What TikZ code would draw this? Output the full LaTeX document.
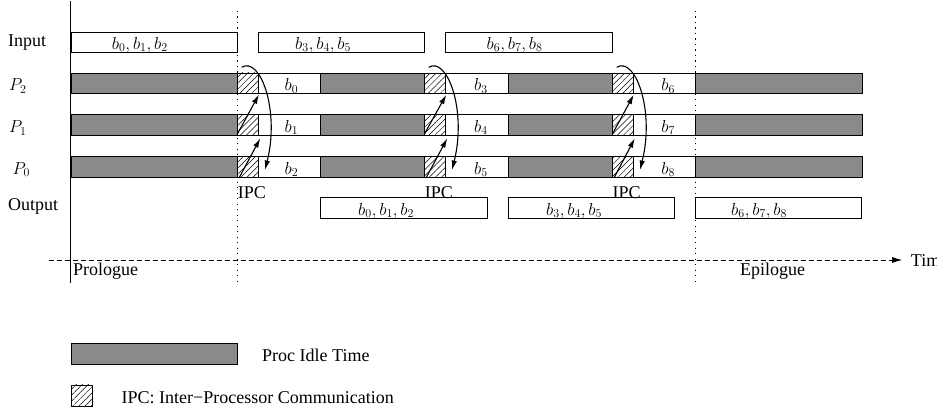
\documentclass[tikz,border=0pt]{standalone}
\usepackage[no-math]{fontspec}
\setmainfont{Liberation Serif}
\usetikzlibrary{patterns.meta,arrows.meta,calc}
\definecolor{idlegray}{RGB}{138,138,138}
\begin{document}
\begin{tikzpicture}[x=1pt,y=-1pt,
  every node/.style={font=\fontsize{18}{21}\selectfont},
  seg/.style={draw, line width=0.8pt, inner sep=0pt, anchor=north west, minimum height=20.7pt},
  idle/.style={seg, fill=idlegray},
  ipcbox/.style={seg, pattern={Lines[angle=45,distance=4.3pt,line width=0.5pt]}},
  workbox/.style={seg, fill=white},
  lbl/.style={inner sep=0pt},
  ipcarrow/.style={line width=1.1pt, -{Latex[length=9.5pt,width=5.5pt]}},
  dotline/.style={line width=1pt, dash pattern=on 1.2pt off 4.3pt},
  axisline/.style={line width=1pt},
  timeline/.style={line width=0.9pt, dash pattern=on 5pt off 3pt, -{Latex[length=10pt,width=6pt]}},
]
\useasboundingbox (0,0) rectangle (937,412);

% guides
\draw[axisline] (70.7,1) -- (70.7,283);
\draw[dotline] (237,11) -- (237,284);
\draw[dotline] (695,11) -- (695,284);

% row labels
\node[lbl, anchor=base west] (lin) at (8,46.5) {Input};
\node[lbl, anchor=base west] (lp2) at (9,91) {$P_2$};
\node[lbl, anchor=base west] (lp1) at (9,132.5) {$P_1$};
\node[lbl, anchor=base west] (lp0) at (12.5,174) {$P_0$};
\node[lbl, anchor=base west] (lout) at (8,210.5) {Output};

% input boxes
\node[workbox, minimum width=166.3pt] (in1) at (70.7,31.7) {};
\node[lbl, anchor=base west] (in1t) at ($(in1.south west)+(41,-3.8)$) {$b_0,b_1,b_2$};
\node[workbox, minimum width=166.3pt] (in2) at (258,31.7) {};
\node[lbl, anchor=base west] (in2t) at ($(in2.south west)+(37,-3.8)$) {$b_3,b_4,b_5$};
\node[workbox, minimum width=166.7pt] (in3) at (445,31.7) {};
\node[lbl, anchor=base west] (in3t) at ($(in3.south west)+(41.5,-3.8)$) {$b_6,b_7,b_8$};

% processor rows
\foreach \n/\y/\ka/\kb/\kc in {2/72.7/0/3/6, 1/114.3/1/4/7, 0/156/2/5/8}{
  \node[idle, minimum width=166.3pt] (ia\n) at (70.7,\y) {};
  \node[ipcbox, minimum width=21pt] (ha\n) at (237,\y) {};
  \node[workbox, minimum width=62pt] (wa\n) at (258,\y) {};
  \node[lbl, anchor=base] (ta\n) at ($(wa\n.south)+(2,-3.5)$) {$b_{\ka}$};
  \node[idle, minimum width=104pt] (ib\n) at (320,\y) {};
  \node[ipcbox, minimum width=21pt] (hb\n) at (424,\y) {};
  \node[workbox, minimum width=63pt] (wb\n) at (445,\y) {};
  \node[lbl, anchor=base] (tb\n) at ($(wb\n.south)+(4,-3.5)$) {$b_{\kb}$};
  \node[idle, minimum width=104pt] (ic\n) at (508,\y) {};
  \node[ipcbox, minimum width=20.5pt] (hc\n) at (612,\y) {};
  \node[workbox, minimum width=62.5pt] (wc\n) at (632.5,\y) {};
  \node[lbl, anchor=base] (tc\n) at ($(wc\n.south)+(4,-3.5)$) {$b_{\kc}$};
  \node[idle, minimum width=167pt] (id\n) at (695,\y) {};
}

% output boxes
\node[workbox, minimum width=166.5pt] (out1) at (320,197.3) {};
\node[lbl, anchor=base west] (out1t) at ($(out1.south west)+(38,-3.8)$) {$b_0,b_1,b_2$};
\node[workbox, minimum width=166pt] (out2) at (508,197.3) {};
\node[lbl, anchor=base west] (out2t) at ($(out2.south west)+(38,-3.8)$) {$b_3,b_4,b_5$};
\node[workbox, minimum width=166pt] (out3) at (695,197.3) {};
\node[lbl, anchor=base west] (out3t) at ($(out3.south west)+(36,-3.8)$) {$b_6,b_7,b_8$};

% inter-processor communication arrows
\foreach \g in {a,b,c}{
  \draw[ipcarrow] ($(h\g0.south west)+(2,0.5)$) -- ($(h\g1.south east)+(1.5,2.5)$);
  \draw[ipcarrow] ($(h\g1.south west)+(0.5,-2)$) -- ($(h\g2.south east)+(0.5,0.5)$);
  \draw[ipcarrow] ($(h\g2.north west)+(4.7,-5.4)$) .. controls ($(h\g2.north west)+(23,-16.7)$) and ($(h\g2.north west)+(43,37.3)$) .. ($(h\g2.north west)+(28,97.3)$);
  \node[lbl, anchor=base] (ipc\g) at ($(h\g0.south)+(4,21)$) {IPC};
}

% time axis
\coordinate (tl0) at (49,260);
\node[lbl, anchor=base west] (time) at (910.7,266.5) {Time};
\draw[timeline] (tl0) -- ($(tl0 -| time.west)+(-8.5,0)$);
\node[lbl, anchor=base west] (pro) at (73,275.5) {Prologue};
\node[lbl, anchor=base west] (epi) at (740,275.5) {Epilogue};

% legend
\node[idle, minimum width=166.6pt, minimum height=21.3pt] (legidle) at (70.7,342.7) {};
\node[lbl, anchor=base west] (legidlet) at (262,361.5) {Proc Idle Time};
\node[ipcbox, minimum width=21pt, minimum height=21pt] (legipc) at (70.7,384.5) {};
\node[lbl, anchor=base west] (legipct) at (121.5,403.5) {IPC: Inter−Processor Communication};
\end{tikzpicture}
\end{document}
